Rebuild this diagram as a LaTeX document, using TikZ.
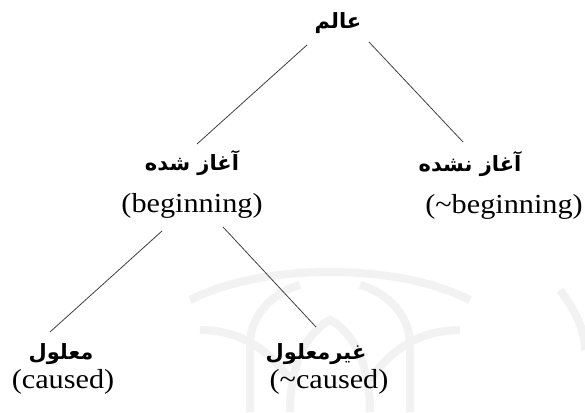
\documentclass[tikz,border=0pt]{standalone}
\usepackage{fontspec}
\setmainfont{Liberation Serif}[FakeStretch=1.1]
\newfontfamily\arabicfont[Script=Arabic]{DejaVu Sans}
\TeXXeTstate=1
\begin{document}
\begin{tikzpicture}[x=1pt,y=-1pt,
  fa/.style={inner sep=0pt,font=\arabicfont\bfseries\fontsize{21}{24}\selectfont},
  en/.style={inner sep=0pt,font=\fontsize{27.5}{30}\selectfont},
  link/.style={draw=black!75,line width=0.8pt},
  wm/.style={draw=black!5,line width=8pt}]
\useasboundingbox[fill=white] (0,0) rectangle (585,412);
% faint watermark
\begin{scope}
\clip (0,0) rectangle (585,412);
\draw[wm] (190,300) .. controls (230,280) and (280,272) .. (330,272) .. controls (380,272) and (430,280) .. (470,300);
\draw[wm] (250,412) -- (250,345) .. controls (250,310) and (280,290) .. (300,285);
\draw[wm] (410,412) -- (410,345) .. controls (410,310) and (380,290) .. (360,285);
\draw[wm] (290,412) .. controls (290,360) and (310,330) .. (330,320) .. controls (350,330) and (370,360) .. (370,412);
\draw[wm] (200,330) .. controls (240,330) and (270,350) .. (290,380);
\draw[wm] (460,330) .. controls (420,330) and (390,350) .. (370,380);
\draw[wm] (560,290) .. controls (575,310) and (585,330) .. (585,350);
\end{scope}
\node[fa] (root) at (338,23) {\beginR عالم\endR};
\node[fa] (begA) at (192,163) {\beginR آغاز شده\endR};
\node[en] (begE) at (192,206) {(beginning)};
\node[fa] (nbegA) at (470,164) {\beginR آغاز نشده\endR};
\node[en] (nbegE) at (504,207) {(\textasciitilde beginning)};
\node[fa] (cauA) at (61,354) {\beginR معلول\endR};
\node[en] (cauE) at (63,382) {(caused)};
\node[fa] (ncauA) at (316,354) {\beginR غیرمعلول\endR};
\node[en] (ncauE) at (329,382) {(\textasciitilde caused)};
\coordinate (r1) at (307,45);
\coordinate (r2) at (369,42);
\coordinate (b1) at (197,144);
\coordinate (n1) at (463,142);
\coordinate (b2) at (162,231);
\coordinate (b3) at (223,227);
\coordinate (c1) at (50,332);
\coordinate (c2) at (316,327);
\draw[link] (r1) -- (b1);
\draw[link] (r2) -- (n1);
\draw[link] (b2) -- (c1);
\draw[link] (b3) -- (c2);
\end{tikzpicture}
\end{document}
